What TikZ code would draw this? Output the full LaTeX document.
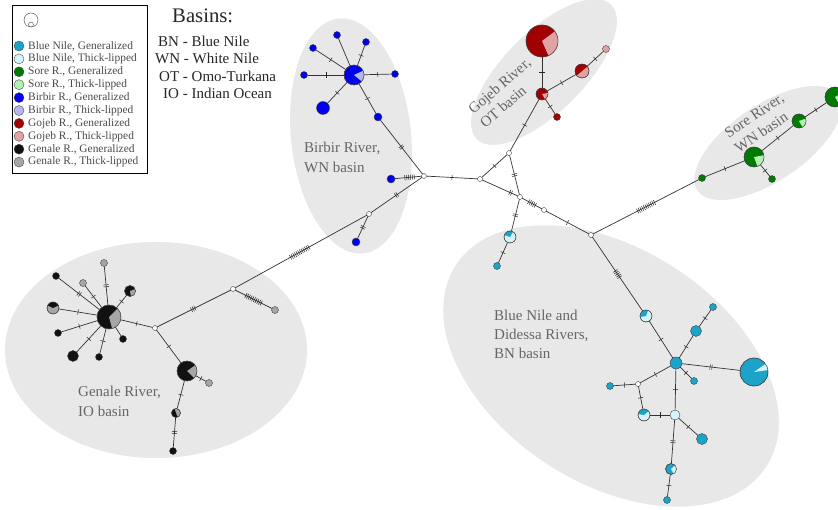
\documentclass[tikz,border=0pt]{standalone}
\usepackage{fontspec}
\setmainfont{Liberation Serif}
\usetikzlibrary{decorations.markings}

% haplotype colours: generalized / thick-lipped per river
\definecolor{bnG}{HTML}{1BA3CA}
\definecolor{bnT}{HTML}{D6F3FB}
\definecolor{soG}{HTML}{007A00}
\definecolor{soT}{HTML}{B2F0B2}
\definecolor{biG}{HTML}{0000EE}
\definecolor{biT}{HTML}{B6B6EE}
\definecolor{goG}{HTML}{A20000}
\definecolor{goT}{HTML}{E0A2A2}
\definecolor{geG}{HTML}{111111}
\definecolor{geT}{HTML}{A6A6A6}
\definecolor{basin}{HTML}{E8E8E8}
\definecolor{labgrey}{HTML}{666666}
\definecolor{legtext}{HTML}{4A4A4A}

% haplotype node: name, x, y, radius, colour
\newcommand\hap[5]{\node[hap,fill=#5,minimum size=#4*2pt] (#1) at (#2,#3) {};}
% median vector
\newcommand\mv[3]{\node[hap,fill=white,minimum size=5pt] (#1) at (#2,#3) {};}
% pie slice on a haplotype: node, radius, colour, start angle, end angle
\newcommand\hapslice[5]{%
  \fill[#3] (#1.center) -- ++(#4:#2pt) arc[start angle=#4,end angle=#5,radius=#2pt] -- cycle;
  \draw[hapline] (#1.center) circle[radius=#2pt];}

\tikzset{
  hapline/.style={draw=black!75,line width=0.4pt},
  hap/.style={circle,inner sep=0pt,outer sep=0pt,hapline},
  edge/.style={draw=black!80,line width=0.7pt},
  tickline/.style={line width=0.5pt,draw=black!85},
  tk/.style 2 args={postaction={decorate,decoration={markings,
    mark=at position #1 with {\foreach \k in {1,...,#2}{%
      \draw[tickline] ({(\k-(#2+1)/2)*1.9pt},-2.6pt) -- ++(0pt,5.2pt);}}}}},
  t1/.style={tk={#1}{1}}, t1/.default=0.5,
  t2/.style={tk={#1}{2}}, t2/.default=0.5,
  lab/.style={text=labgrey,font=\fontsize{15}{18}\selectfont,inner sep=0pt},
  legtxt/.style={text=legtext,font=\fontsize{11.4}{13}\selectfont,anchor=west,inner sep=0pt},
  legdot/.style={circle,inner sep=0pt,minimum size=10pt,draw=black!70,line width=0.4pt},
  keytxt/.style={anchor=base west,inner sep=0pt,text=black!85,font=\fontsize{15}{17}\selectfont},
}

\begin{document}
\begin{tikzpicture}[x=1pt,y=-1pt]
\useasboundingbox (0,0) rectangle (838,510);
\fill[white] (0,0) rectangle (838,510);

% ---- basin shading ----
\fill[basin] (156,350) ellipse[x radius=151pt,y radius=108pt];
\fill[basin,rotate around={6:(351,136)}] (351,136) ellipse[x radius=60pt,y radius=118pt];
\fill[basin,rotate around={45:(544,72)}] (544,72) ellipse[x radius=95pt,y radius=40pt];
\fill[basin,rotate around={34:(768,143)}] (768,143) ellipse[x radius=85pt,y radius=38pt];
\fill[basin,rotate around={-33:(611,366)}] (611,366) ellipse[x radius=185pt,y radius=117pt];

% ---- legend ----
\draw[black,line width=0.8pt,fill=white] (12,5) rectangle (147,173);
\node[hap,fill=white,minimum size=14pt] (sz1) at (31,20) {};
\node[hap,fill=white,minimum size=5pt,anchor=south] (sz2) at (sz1.south) {};
\foreach \c/\t [count=\i from 0] in {
  bnG/{Blue Nile, Generalized},
  bnT/{Blue Nile, Thick-lipped},
  soG/{Sore R., Generalized},
  soT/{Sore R., Thick-lipped},
  biG/{Birbir R., Generalized},
  biT/{Birbir R., Thick-lipped},
  goG/{Gojeb R., Generalized},
  goT/{Gojeb R., Thick-lipped},
  geG/{Genale R., Generalized},
  geT/{Genale R., Thick-lipped}}{
  \node[legdot,fill=\c] (ld\i) at (19,{46+12.9*\i}) {};
  \node[legtxt] (lt\i) at (28,{46+12.9*\i}) {\t};
}

% ---- basin key ----
\node[anchor=base west,inner sep=0pt,text=black!85,font=\fontsize{20.7}{24}\selectfont] (kt) at (172,23) {Basins:};
\node[keytxt] (k1) at (158,47) {BN - Blue Nile};
\node[keytxt] (k2) at (155,64) {WN - White Nile};
\node[keytxt] (k3) at (159,82) {OT - Omo-Turkana};
\node[keytxt] (k4) at (163,99) {IO - Indian Ocean};

% ---- region labels ----
\node[lab,anchor=base west] (lg1) at (78,397) {Genale River,};
\node[lab,anchor=base west] (lg2) at (78,417) {IO basin};
\node[lab,anchor=base west] (lb1) at (304,153) {Birbir River,};
\node[lab,anchor=base west] (lb2) at (304,173) {WN basin};
\node[lab,anchor=base west] (ln1) at (494,321) {Blue Nile and};
\node[lab,anchor=base west] (ln2) at (494,340) {Didessa Rivers,};
\node[lab,anchor=base west] (ln3) at (494,359) {BN basin};
\node[lab,anchor=west,align=left,rotate=41] (lo) at (476,118) {Gojeb River,\\OT basin};
\node[lab,anchor=west,align=left,rotate=34] (ls) at (731,142) {Sore River,\\WN basin};

% ---- haplotypes: Birbir ----
\mv{bB0}{424}{176}
\mv{bJ}{369}{214}
\hap{bH}{354}{75}{10}{biG}
\hap{b1}{337}{35}{3.5}{biG}
\hap{b2}{313}{48}{3.5}{biG}
\hap{b3}{366}{42}{3.5}{biG}
\hap{b4}{304}{75}{3.5}{biG}
\hap{b5}{395}{74}{3.5}{biG}
\hap{b6}{323}{108}{6.5}{biG}
\hap{b7}{378}{117}{4}{biG}
\hap{b8}{391}{179}{4}{biG}
\hap{b9}{356}{242}{4}{biG}

% ---- haplotypes: Genale ----
\hap{gH}{109}{317}{12}{geG}
\hap{g1}{56}{276}{3.5}{geG}
\hap{g2}{104}{263}{3.5}{geT}
\hap{g3}{83}{283}{3.5}{geT}
\hap{g4}{130}{291}{5.5}{geG}
\hap{g5}{53}{308}{6}{geT}
\hap{g6}{58}{333}{3.5}{geG}
\hap{g7}{73}{356}{5.5}{geG}
\hap{g8}{99}{357}{3.5}{geG}
\hap{g9}{123}{339}{3.5}{geG}
\mv{gG1}{155}{328}
\mv{gG2}{233}{289}
\hap{g10}{275}{310}{3.5}{geT}
\hap{gH2}{187}{371}{10}{geG}
\hap{g11}{209}{383}{3.5}{geT}
\hap{g12}{176}{413}{4.5}{geT}
\hap{g13}{173}{451}{3.5}{geG}

% ---- central median vectors ----
\mv{c1}{480}{179}
\mv{c2}{509}{153}
\mv{c3}{520}{197}
\mv{c4}{544}{210}
\mv{c5}{591}{235}
\hap{c6}{510}{237}{6}{bnT}
\hap{c7}{497}{266}{3.5}{bnG}

% ---- haplotypes: Gojeb ----
\hap{oH}{542}{94}{6}{goG}
\hap{oB}{542}{41}{16}{goG}
\hap{oP}{582}{71}{7}{goT}
\hap{o1}{606}{49}{3.5}{goT}
\hap{o2}{557}{117}{3.5}{goG}

% ---- haplotypes: Sore ----
\hap{s1}{702}{178}{3.5}{soG}
\hap{sH}{754}{157}{10}{soG}
\hap{s2}{772}{179}{3.5}{soG}
\hap{sP}{799}{121}{7}{soG}
\hap{sB}{835}{97}{10}{soG}

% ---- haplotypes: Blue Nile / Didessa ----
\hap{nP1}{646}{316}{6}{bnT}
\hap{nH}{676}{363}{6}{bnG}
\hap{n1}{713}{307}{3.5}{bnG}
\hap{n2}{696}{331}{5.5}{bnG}
\hap{nB}{754}{372}{14}{bnG}
\hap{n3}{694}{381}{3.5}{bnG}
\mv{nO}{638}{384}
\hap{n4}{610}{386}{3.5}{bnG}
\hap{nP2}{644}{415}{6}{bnT}
\hap{nL}{675}{415}{5}{bnT}
\hap{n5}{702}{439}{5.5}{bnG}
\hap{nP3}{671}{469}{5.5}{bnG}
\hap{n6}{667}{500}{3.5}{bnG}

% ---- mutational steps ----
% Birbir
\draw[edge] (bH) -- (b1);
\draw[edge,t1] (bH) -- (b2);
\draw[edge,t1] (bH) -- (b3);
\draw[edge,t1] (bH) -- (b4);
\draw[edge,t1] (bH) -- (b5);
\draw[edge,t1] (bH) -- (b6);
\draw[edge,t1] (bH) -- (b7);
\draw[edge,t2] (b7) -- (bB0);
\draw[edge,tk={0.45}{6}] (bB0) -- (b8);
\draw[edge,t2] (bB0) -- (bJ);
\draw[edge,t2] (bJ) -- (b9);
\draw[edge,tk={0.49}{12}] (gG2) -- (bJ);
% Genale
\draw[edge,t2] (gH) -- (g1);
\draw[edge,t2] (gH) -- (g2);
\draw[edge,t1] (gH) -- (g3);
\draw[edge,t1] (gH) -- (g4);
\draw[edge,t1] (gH) -- (g5);
\draw[edge,t1] (gH) -- (g6);
\draw[edge,t1] (gH) -- (g7);
\draw[edge,t1] (gH) -- (g8);
\draw[edge] (gH) -- (g9);
\draw[edge,t1] (gH) -- (gG1);
\draw[edge,tk={0.49}{3}] (gG1) -- (gG2);
\draw[edge,tk={0.5}{10}] (gG2) -- (g10);
\draw[edge,t1] (gG1) -- (gH2);
\draw[edge,t1] (gH2) -- (g11);
\draw[edge,t1] (gH2) -- (g12);
\draw[edge,t2] (g12) -- (g13);
% centre
\draw[edge,t1] (bB0) -- (c1);
\draw[edge,t1] (c1) -- (c2);
\draw[edge,t2={0.8}] (c1) -- (c3);
\draw[edge,t2] (c2) -- (c3);
\draw[edge,tk={0.5}{5}] (c3) -- (c4);
\draw[edge,t1] (c4) -- (c5);
\draw[edge,t2] (c3) -- (c6);
\draw[edge,t1] (c6) -- (c7);
% Gojeb
\draw[edge,t1] (c2) -- (oH);
\draw[edge,t1] (oH) -- (oB);
\draw[edge,t1] (oH) -- (oP);
\draw[edge,t1] (oP) -- (o1);
\draw[edge,t1] (oH) -- (o2);
% Sore
\draw[edge,tk={0.5}{11}] (c5) -- (s1);
\draw[edge,t1] (s1) -- (sH);
\draw[edge,t1] (sH) -- (s2);
\draw[edge,t1] (sH) -- (sP);
\draw[edge,t1] (sP) -- (sB);
% Blue Nile / Didessa
\draw[edge,tk={0.5}{5}] (c5) -- (nP1);
\draw[edge,t1] (nP1) -- (nH);
\draw[edge,t1] (nH) -- (n2);
\draw[edge,t1] (n2) -- (n1);
\draw[edge,t2] (nH) -- (nB);
\draw[edge,t1] (nH) -- (n3);
\draw[edge,t1] (nH) -- (nO);
\draw[edge,t1] (nO) -- (n4);
\draw[edge,t1] (nO) -- (nP2);
\draw[edge,t1] (nH) -- (nL);
\draw[edge,t1] (nP2) -- (nL);
\draw[edge,t1] (nL) -- (n5);
\draw[edge,t2] (nL) -- (nP3);
\draw[edge,t1] (nP3) -- (n6);

% ---- pie slices ----
\hapslice{bH}{10}{biT}{-40}{25}
\hapslice{gH}{12}{geT}{-75}{45}
\hapslice{g4}{5.5}{geT}{-80}{20}
\hapslice{g5}{6}{geG}{25}{155}
\hapslice{gH2}{10}{geT}{-45}{35}
\hapslice{g12}{4.5}{geG}{110}{290}
\hapslice{c6}{6}{bnG}{60}{160}
\hapslice{oH}{6}{goT}{-60}{10}
\hapslice{oB}{16}{goT}{-66}{37}
\hapslice{oP}{7}{goG}{40}{220}
\hapslice{sH}{10}{soT}{-70}{10}
\hapslice{sP}{7}{soT}{-60}{20}
\hapslice{sB}{10}{soT}{-60}{30}
\hapslice{nP1}{6}{bnG}{70}{190}
\hapslice{nB}{14}{bnT}{8}{35}
\hapslice{nP2}{6}{bnG}{40}{170}
\hapslice{nP3}{5.5}{bnT}{-60}{40}
\end{tikzpicture}
\end{document}
